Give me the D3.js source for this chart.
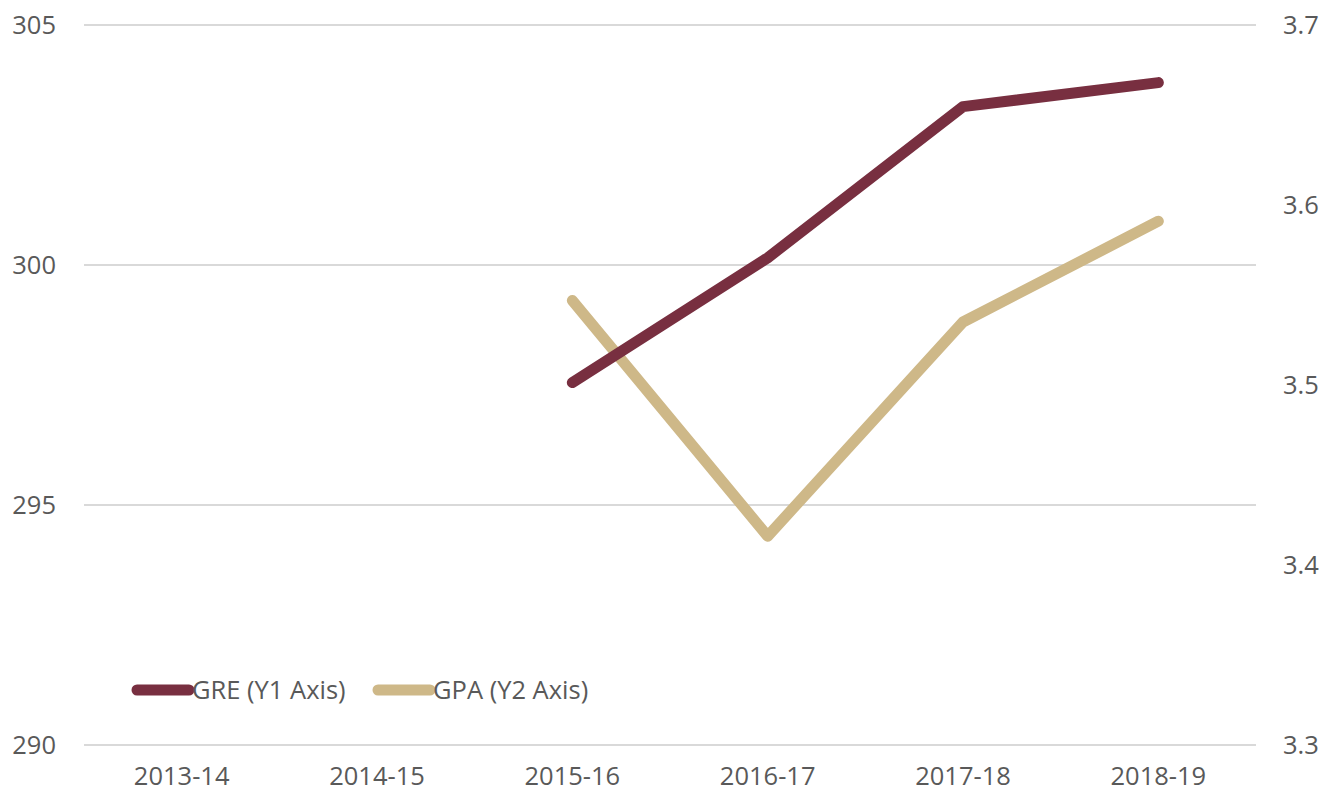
<!DOCTYPE html>
<html>
<head>
<meta charset="utf-8">
<script src="https://cdn.jsdelivr.net/npm/d3@7"></script>
<style>
    body { margin: 0; background: #fff; }
    text { font-family: "Open Sans", "Liberation Sans", sans-serif; fill: #595959; }
</style>
</head>
<body>
<div id="chart"></div>
<script>
const years = ["2013-14", "2014-15", "2015-16", "2016-17", "2017-18", "2018-19"];
const greValues = [null, null, 297.55, 300.15, 303.3, 303.8];
const gpaValues = [null, null, 3.547, 3.416, 3.535, 3.591];
const leftTicks = [290, 295, 300, 305];
const rightTicks = [3.3, 3.4, 3.5, 3.6, 3.7];

const W = 1327, H = 798;
const margin = {top: 25, right: 71, bottom: 53, left: 84};
const width = W - margin.left - margin.right;
const height = H - margin.top - margin.bottom;
const fontSize = "25.5px";

const svg = d3.select("#chart").append("svg")
    .attr("width", W)
    .attr("height", H);

const g = svg.append("g")
    .attr("transform", "translate(" + margin.left + "," + margin.top + ")");

// scales
const x = d3.scaleBand().domain(years).range([0, width]);
const y1 = d3.scaleLinear().domain([290, 305]).range([height, 0]);
const y2 = d3.scaleLinear().domain([3.3, 3.7]).range([height, 0]);

// gridlines
g.selectAll("line.grid").data(leftTicks).enter().append("line")
    .attr("class", "grid")
    .attr("x1", 0).attr("x2", width)
    .attr("y1", d => y1(d)).attr("y2", d => y1(d))
    .attr("stroke", "#d9d9d9").attr("stroke-width", 2);

// left axis
const leftAxis = g.append("g")
    .call(d3.axisLeft(y1).tickValues(leftTicks).tickSize(0).tickPadding(28));
leftAxis.select(".domain").remove();
leftAxis.selectAll("text").style("font-size", fontSize).attr("fill", "#595959");

// right axis
const rightAxis = g.append("g")
    .attr("transform", "translate(" + width + ",0)")
    .call(d3.axisRight(y2).tickValues(rightTicks).tickSize(0).tickPadding(27).tickFormat(d3.format(".1f")));
rightAxis.select(".domain").remove();
rightAxis.selectAll("text").style("font-size", fontSize).attr("fill", "#595959");

// x axis
const xAxis = g.append("g")
    .attr("transform", "translate(0," + height + ")")
    .call(d3.axisBottom(x).tickSize(0).tickPadding(22));
xAxis.select(".domain").remove();
xAxis.selectAll("text").style("font-size", fontSize).attr("fill", "#595959");

const cx = d => x(d) + x.bandwidth() / 2;

const greLine = d3.line()
    .defined(d => d[1] != null)
    .x(d => cx(d[0]))
    .y(d => y1(d[1]));

const gpaLine = d3.line()
    .defined(d => d[1] != null)
    .x(d => cx(d[0]))
    .y(d => y2(d[1]));

g.append("path")
    .datum(d3.zip(years, gpaValues))
    .attr("d", gpaLine)
    .attr("fill", "none")
    .attr("stroke", "#CEB888")
    .attr("stroke-width", 11)
    .attr("stroke-linecap", "round")
    .attr("stroke-linejoin", "round");

g.append("path")
    .datum(d3.zip(years, greValues))
    .attr("d", greLine)
    .attr("fill", "none")
    .attr("stroke", "#782F40")
    .attr("stroke-width", 11)
    .attr("stroke-linecap", "round")
    .attr("stroke-linejoin", "round");

// legend
const legend = [
    {name: "GRE (Y1 Axis)", color: "#782F40", x: 137},
    {name: "GPA (Y2 Axis)", color: "#CEB888", x: 378}
];
const lg = svg.selectAll("g.legend").data(legend).enter().append("g")
    .attr("class", "legend")
    .attr("transform", d => "translate(" + d.x + ",690)");
lg.append("line")
    .attr("x1", 0).attr("x2", 52)
    .attr("stroke", d => d.color)
    .attr("stroke-width", 11)
    .attr("stroke-linecap", "round");
lg.append("text")
    .attr("x", 55).attr("y", 9)
    .style("font-size", fontSize)
    .text(d => d.name);
</script>
</body>
</html>
